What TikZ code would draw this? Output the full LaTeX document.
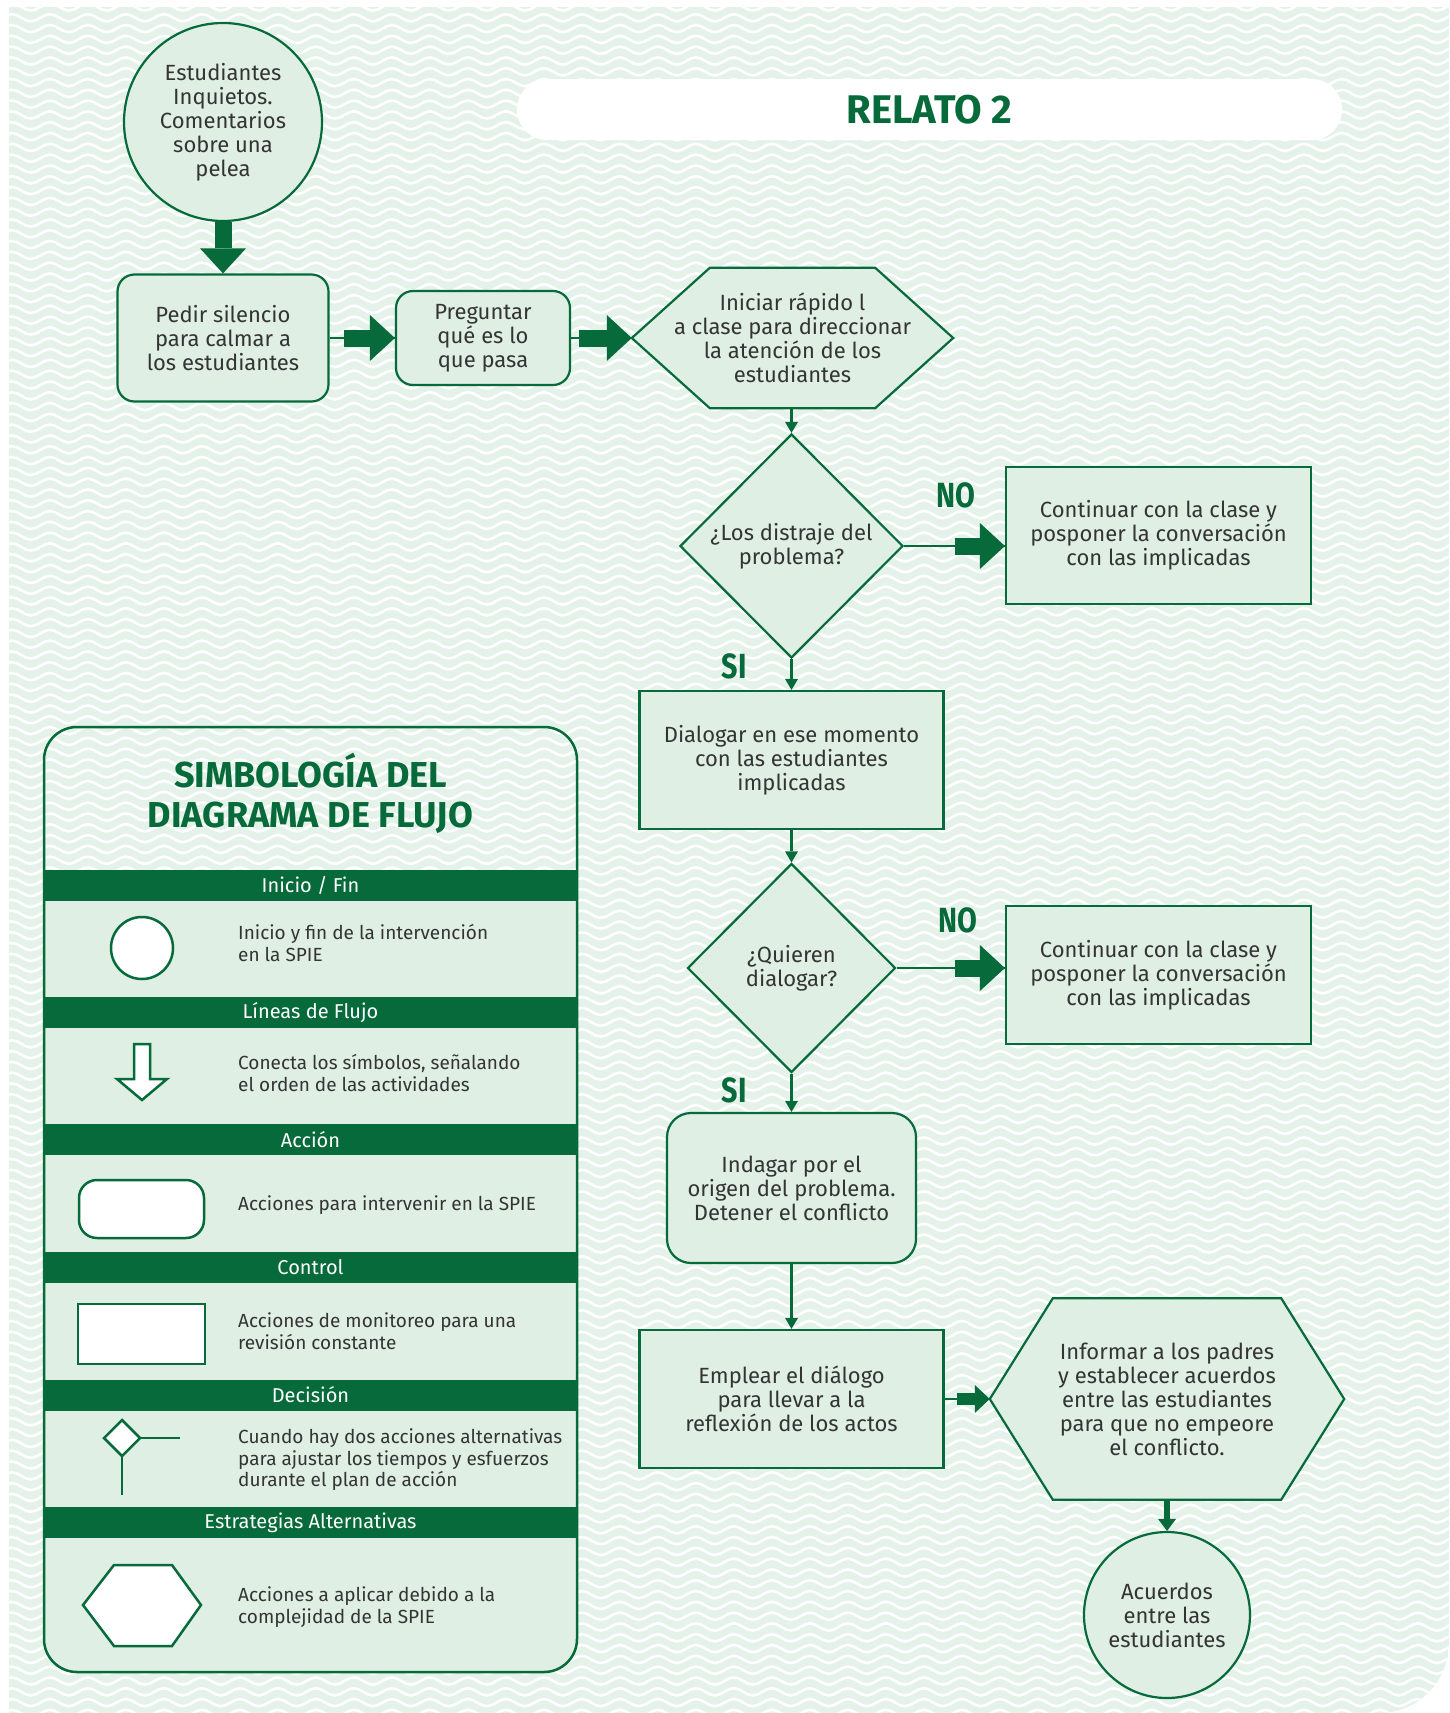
\documentclass[tikz,border=0pt]{standalone}
\usepackage{fontspec}
\setmainfont{Fira Sans}
\newfontfamily\narrowbold{Fira Sans}[FakeStretch=0.82]
\usetikzlibrary{arrows.meta,calc,shapes.geometric,decorations.pathmorphing}

\definecolor{dkgreen}{RGB}{6,106,58}
\definecolor{boxfill}{RGB}{223,239,227}
\definecolor{mint}{RGB}{228,242,233}
\definecolor{ink}{RGB}{52,52,52}

\pgfdeclarelayer{waves}
\pgfdeclarelayer{shapes}
\pgfsetlayers{waves,shapes,main}

\tikzset{
  body/.style={font=\fontsize{22}{24}\selectfont, text=ink, align=center},
  actbox/.style={body, draw=dkgreen, fill=boxfill, line width=2.2pt, rounded corners=17pt},
  ctrlbox/.style={body, draw=dkgreen, fill=boxfill, line width=2.2pt},
  termnode/.style={body, circle, draw=dkgreen, fill=boxfill, line width=2.2pt, inner sep=0pt},
  decnode/.style={body, diamond, draw=dkgreen, fill=boxfill, line width=2.2pt, inner sep=0pt, aspect=1},
  hexholder/.style={body, inner sep=0pt},
  hexshape/.style={draw=dkgreen, fill=boxfill, line width=2.2pt, line join=miter},
  thinlink/.style={draw=dkgreen, line width=2.5pt},
  smallarrow/.style={thinlink, -{Triangle[length=11pt,width=13pt,line width=0pt]}},
  bigarrow/.style={draw=dkgreen, line width=17pt, -{Triangle[length=25pt,width=46pt,line width=0pt]}},
  midarrow/.style={draw=dkgreen, line width=12pt, -{Triangle[length=15pt,width=28pt,line width=0pt]}},
  endarrow/.style={draw=dkgreen, line width=6pt, -{Triangle[length=12pt,width=18pt,line width=0pt]}},
  answer/.style={font=\narrowbold\bfseries\fontsize{35}{35}\selectfont, text=dkgreen},
  band/.style={fill=dkgreen, text=white, minimum width=533pt, minimum height=31pt, inner sep=0pt, font=\fontsize{20}{24}\selectfont},
  legtext/.style={anchor=west, align=left, text=ink, font=\fontsize{19}{21.5}\selectfont, inner sep=0pt},
  legicon/.style={draw=dkgreen, fill=white, line width=2.5pt},
}

\begin{document}
\begin{tikzpicture}[x=1pt,y=-1pt]
\useasboundingbox (0,0) rectangle (1449,1713);

% wavy backdrop
\begin{pgfonlayer}{waves}
\begin{scope}
  \clip (9,7) -- (1449,7) -- (1449,1643) .. controls (1449,1681.7) and (1417.7,1713) .. (1379,1713) -- (9,1713) -- cycle;
  \fill[mint] (0,0) rectangle (1449,1713);
  \foreach \i in {0,...,158}
    \draw[white, line width=2.6pt, decorate, decoration={snake, segment length=38pt, amplitude=3.6pt}]
      (0,{7+\i*10.8}) -- (1470,{7+\i*10.8});
\end{scope}
\end{pgfonlayer}

% heading
\node[fill=white, rounded corners=30pt, minimum width=825pt, minimum height=61pt, text=dkgreen,
      font=\bfseries\fontsize{40}{40}\selectfont] (title) at (929.5,109.5) {RELATO 2};

% flow nodes
\node[termnode, minimum size=198pt] (start) at (223,122) {Estudiantes\\Inquietos.\\Comentarios\\sobre una\\pelea};
\node[actbox, minimum width=211pt, minimum height=127pt] (pedir) at (223,338) {Pedir silencio\\para calmar a\\los estudiantes};
\node[actbox, minimum width=174pt, minimum height=94pt] (preg) at (483,338) {Preguntar\\qué es lo\\que pasa};
\node[hexholder, minimum width=321pt, minimum height=140pt] (hexA) at (792.5,338) {Iniciar rápido l\\a clase para direccionar\\la atención de los\\estudiantes};
\node[decnode, minimum width=223pt, minimum height=224pt] (d1) at (791.5,546) {¿Los distraje del\\problema?};
\node[ctrlbox, minimum width=305pt, minimum height=137pt] (no1) at (1158.5,535.5) {Continuar con la clase y\\posponer la conversación\\con las implicadas};
\node[ctrlbox, minimum width=304pt, minimum height=138pt] (dial) at (791.5,760) {Dialogar en ese momento\\con las estudiantes\\implicadas};
\node[decnode, minimum width=208pt, minimum height=209pt] (d2) at (791.5,968) {¿Quieren\\dialogar?};
\node[ctrlbox, minimum width=305pt, minimum height=138pt] (no2) at (1158.5,975) {Continuar con la clase y\\posponer la conversación\\con las implicadas};
\node[actbox, rounded corners=24pt, minimum width=249pt, minimum height=150pt] (inda) at (791.5,1188) {Indagar por el\\origen del problema.\\Detener el conflicto};
\node[ctrlbox, minimum width=304pt, minimum height=138pt] (emp) at (791.5,1399) {Emplear el diálogo\\para llevar a la\\reflexión de los actos};
\node[hexholder, minimum width=354pt, minimum height=201pt] (hexB) at (1167,1399) {Informar a los padres\\y establecer acuerdos\\entre las estudiantes\\para que no empeore\\el conflicto.};
\node[termnode, minimum size=166pt] (fin) at (1167,1615) {Acuerdos\\entre las\\estudiantes};

% hexagon outlines behind their texts
\begin{pgfonlayer}{shapes}
\draw[hexshape] (hexA.west) -- ($(hexA.north west)+(78,0)$) -- ($(hexA.north east)+(-78,0)$) -- (hexA.east)
  -- ($(hexA.south east)+(-78,0)$) -- ($(hexA.south west)+(78,0)$) -- cycle;
\draw[hexshape] (hexB.west) -- ($(hexB.north west)+(63,0)$) -- ($(hexB.north east)+(-63,0)$) -- (hexB.east)
  -- ($(hexB.south east)+(-63,0)$) -- ($(hexB.south west)+(63,0)$) -- cycle;
\end{pgfonlayer}

% answers
\node[answer] (noA) at (956,495) {NO};
\node[answer] (siA) at (734,666) {SI};
\node[answer] (noB) at (958,920) {NO};
\node[answer] (siB) at (734,1090) {SI};

% connectors
\draw[bigarrow] (start.south) -- (pedir.north);
\draw[thinlink] (pedir.east) -- (preg.west);
\draw[bigarrow] ($(preg.west)+(-51,0)$) -- (preg.west);
\draw[thinlink] (preg.east) -- (hexA.west);
\draw[bigarrow] ($(hexA.west)+(-53,0)$) -- (hexA.west);
\draw[smallarrow] (hexA.south -| d1.north) -- (d1.north);

\coordinate (inA) at (d1.east -| no1.west);
\draw[thinlink] (d1.east) -- (inA);
\draw[bigarrow] ($(inA)+(-50,0)$) -- (inA);
\draw[smallarrow] (d1.south) -- (dial.north);
\draw[smallarrow] (dial.south) -- (d2.north);

\coordinate (inB) at (d2.east -| no2.west);
\draw[thinlink] (d2.east) -- (inB);
\draw[bigarrow] ($(inB)+(-50,0)$) -- (inB);
\draw[smallarrow] (d2.south) -- (inda.north);
\draw[smallarrow] (inda.south) -- (emp.north);

\draw[thinlink] (emp.east) -- (hexB.west);
\draw[midarrow] ($(hexB.west)+(-33,0)$) -- (hexB.west);
\draw[endarrow] (hexB.south) -- (fin.north);

% legend panel
\begin{scope}
  \clip[rounded corners=33pt] (44,727) rectangle (577,1672);
  \fill[boxfill] (44,870) rectangle (577,1672);
  \node[band] (bandA) at (310.5,885) {Inicio / Fin};
  \node[band] (bandB) at (310.5,1012.5) {Líneas de Flujo};
  \node[band] (bandC) at (310.5,1139.5) {Acción};
  \node[band] (bandD) at (310.5,1267) {Control};
  \node[band] (bandE) at (310.5,1395) {Decisión};
  \node[band] (bandF) at (310.5,1522.5) {Estrategias Alternativas};
\end{scope}
\draw[dkgreen, line width=2.5pt, rounded corners=33pt] (44,727) rectangle (577,1672);

\node[align=center, text=dkgreen, font=\bfseries\fontsize{36}{40}\selectfont] (legtitle) at (310.5,793)
  {SIMBOLOGÍA DEL\\DIAGRAMA DE FLUJO};

% legend symbols
\node[legicon, circle, minimum size=62pt, inner sep=0pt] (icoA) at (142,948) {};
\draw[legicon, line join=miter] (134,1044) -- (150,1044) -- (150,1079) -- (167,1079) -- (142,1100)
  -- (117,1079) -- (134,1079) -- cycle;
\node[legicon, rounded corners=18pt, minimum width=125pt, minimum height=58pt] (icoC) at (141.5,1209) {};
\node[legicon, minimum width=127pt, minimum height=60pt] (icoD) at (141.5,1334) {};
\draw[legicon] (104,1438) -- (122,1420) -- (140,1438) -- (122,1456) -- cycle;
\draw[dkgreen, line width=2.5pt] (140,1438) -- (180,1438);
\draw[dkgreen, line width=2.5pt] (122,1456) -- (122,1495);
\draw[legicon, line join=miter] (83,1605) -- (114,1565) -- (172,1565) -- (201,1605) -- (172,1646) -- (114,1646) -- cycle;

% legend descriptions
\node[legtext] (txA) at (238,943) {Inicio y fin de la intervención\\en la SPIE};
\node[legtext] (txB) at (238,1073) {Conecta los símbolos, señalando\\el orden de las actividades};
\node[legtext] (txC) at (238,1205) {Acciones para intervenir en la SPIE};
\node[legtext] (txD) at (238,1331) {Acciones de monitoreo para una\\revisión constante};
\node[legtext] (txE) at (238,1460) {Cuando hay dos acciones alternativas\\para ajustar los tiempos y esfuerzos\\durante el plan de acción};
\node[legtext] (txF) at (238,1607) {Acciones a aplicar debido a la\\complejidad de la SPIE};

\end{tikzpicture}
\end{document}
